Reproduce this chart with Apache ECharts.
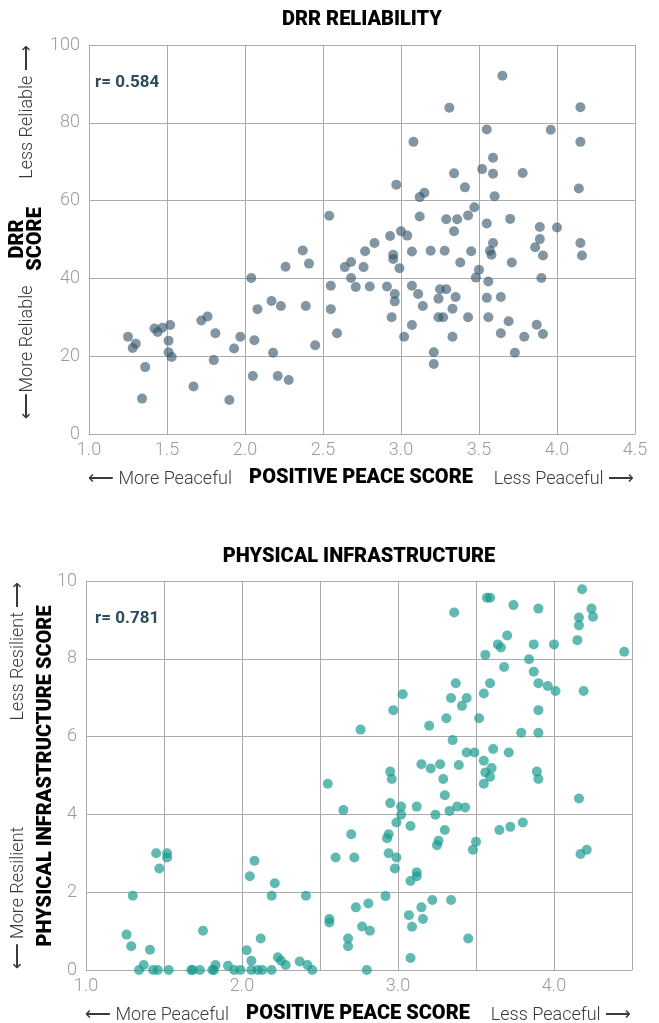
<!DOCTYPE html>
<html>
<head>
<meta charset="utf-8">
<script src="https://cdn.jsdelivr.net/npm/echarts@6/dist/echarts.min.js"></script>
<style>
  html, body { margin: 0; padding: 0; background: #fff; }
  #chart { width: 659px; height: 1023px; }
</style>
</head>
<body>
<div id="chart"></div>
<script>
// Positive Peace score (x) vs. DRR score (y), one point per country
const drrPoints = [
  [1.25,25.0],[1.30,23.2],[1.28,22.1],[1.36,17.2],[1.34,9.1],[1.42,27.1],[1.44,26.2],[1.47,27.3],
  [1.52,28.0],[1.51,24.0],[1.51,21.0],[1.53,19.8],[1.67,12.2],[1.72,29.2],[1.76,30.2],[1.80,19.0],
  [1.81,25.9],[1.90,8.75],[1.93,22.0],[1.97,25.0],[2.04,40.1],[2.08,32.1],[2.06,24.1],[2.05,14.9],
  [2.17,34.2],[2.18,20.9],[2.21,14.9],[2.23,32.9],[2.26,43.0],[2.28,13.9],[2.37,47.2],[2.39,32.9],
  [2.41,43.8],[2.45,22.8],[2.54,56.1],[2.55,38.1],[2.55,32.1],[2.59,25.9],[2.64,42.9],[2.68,44.2],
  [2.68,40.1],[2.71,37.8],[2.76,42.9],[2.77,47.0],[2.80,37.9],[2.83,49.1],[2.91,37.9],[2.93,50.9],
  [2.94,30.0],[2.95,46.1],[2.95,45.0],[2.96,36.0],[2.96,34.1],[2.97,64.1],[2.99,42.6],[3.00,52.1],
  [3.02,25.0],[3.04,51.0],[3.07,46.9],[3.07,38.1],[3.07,28.0],[3.08,75.1],[3.11,36.0],[3.12,55.9],
  [3.12,60.9],[3.14,32.9],[3.15,62.0],[3.19,47.1],[3.21,21.0],[3.21,18.0],[3.24,34.8],[3.24,30.0],
  [3.25,37.2],[3.27,30.0],[3.28,47.1],[3.29,37.2],[3.29,55.2],[3.31,83.9],[3.33,32.2],[3.33,25.0],
  [3.34,52.1],[3.34,67.0],[3.35,35.2],[3.36,55.2],[3.38,44.1],[3.41,63.4],[3.43,56.2],[3.43,30.0],
  [3.45,47.0],[3.47,58.3],[3.48,40.2],[3.50,42.2],[3.52,68.1],[3.55,78.3],[3.55,54.1],[3.55,35.0],
  [3.56,39.2],[3.56,30.0],[3.57,47.1],[3.58,46.1],[3.59,49.1],[3.59,71.0],[3.59,66.9],[3.60,61.1],
  [3.64,35.2],[3.64,25.9],[3.65,92.1],[3.69,29.0],[3.70,55.3],[3.71,44.1],[3.73,20.9],[3.78,67.1],
  [3.79,25.0],[3.86,48.0],[3.87,28.1],[3.89,53.2],[3.89,50.1],[3.90,40.1],[3.91,45.9],[3.91,25.7],
  [3.96,78.2],[4.00,53.1],[4.14,63.1],[4.15,84.0],[4.15,75.1],[4.15,49.1],[4.16,45.9]
];

// Positive Peace score (x) vs. physical infrastructure score (y)
const infraPoints = [
  [1.26,0.91],[1.29,0.61],[1.30,1.91],[1.34,0],[1.37,0.13],[1.41,0.52],[1.43,0],[1.46,0],
  [1.45,3.00],[1.47,2.61],[1.52,3.00],[1.52,2.89],[1.53,0],[1.675,0],[1.685,0],[1.73,0],
  [1.75,1.01],[1.81,0],[1.82,0],[1.83,0.13],[1.91,0.11],[1.95,0],[1.99,0],[2.03,0.51],
  [2.05,2.41],[2.06,0.24],[2.06,0],[2.08,2.81],[2.10,0],[2.12,0.81],[2.13,0],[2.19,0],
  [2.19,1.91],[2.21,2.23],[2.23,0.33],[2.25,0.24],[2.28,0.13],[2.37,0.22],[2.41,1.91],[2.42,0.13],
  [2.45,0],[2.55,4.79],[2.56,1.31],[2.56,1.22],[2.60,2.89],[2.65,4.11],[2.68,0.81],[2.68,0.61],
  [2.70,3.49],[2.72,2.89],[2.73,1.61],[2.76,6.18],[2.77,1.12],[2.80,0],[2.81,1.71],[2.82,1.01],
  [2.92,1.90],[2.93,3.39],[2.94,3.49],[2.94,3.00],[2.95,5.10],[2.95,4.29],[2.96,4.91],[2.97,6.68],
  [2.98,2.61],[2.99,3.79],[2.99,2.89],[3.02,4.20],[3.02,3.99],[3.03,7.09],[3.07,1.41],[3.08,3.70],
  [3.08,2.29],[3.08,0.31],[3.09,1.11],[3.12,4.20],[3.12,2.51],[3.12,2.41],[3.15,5.29],[3.15,1.61],
  [3.16,1.31],[3.20,6.28],[3.21,5.18],[3.22,1.80],[3.24,3.99],[3.25,3.21],[3.26,3.32],[3.27,5.29],
  [3.29,4.91],[3.30,4.49],[3.30,3.60],[3.31,6.47],[3.33,4.09],[3.34,6.99],[3.34,1.80],[3.35,5.91],
  [3.36,9.19],[3.37,7.37],[3.38,4.20],[3.39,5.27],[3.41,6.79],[3.43,4.18],[3.44,6.99],[3.44,5.59],
  [3.45,0.81],[3.48,3.09],[3.49,5.59],[3.50,3.30],[3.52,6.47],[3.55,7.11],[3.55,5.38],[3.55,4.79],
  [3.56,8.10],[3.56,5.08],[3.57,9.57],[3.59,9.57],[3.59,7.37],[3.59,4.97],[3.60,5.19],[3.61,5.68],
  [3.64,8.37],[3.65,3.60],[3.66,8.29],[3.68,7.79],[3.70,8.60],[3.71,5.59],[3.72,3.68],[3.74,9.38],
  [3.79,6.10],[3.80,3.79],[3.84,7.99],[3.87,8.37],[3.87,7.67],[3.89,5.10],[3.90,9.29],[3.90,7.37],
  [3.90,6.68],[3.90,6.10],[3.90,4.91],[3.96,7.30],[4.00,8.37],[4.01,7.17],[4.15,8.48],[4.16,9.06],
  [4.16,8.86],[4.16,4.41],[4.17,2.98],[4.18,9.79],[4.19,7.17],[4.21,3.09],[4.24,9.29],[4.25,9.08],
  [4.45,8.18]
];

const drrTitle = 'DRR RELIABILITY';
const infraTitle = 'PHYSICAL INFRASTRUCTURE';
const drrR = 'r= 0.584';
const infraR = 'r= 0.781';
const xAxisName = 'POSITIVE PEACE SCORE';
const xLow = '\u27F5 More Peaceful';
const xHigh = 'Less Peaceful \u27F6';

const GRID_COLOR = '#ababab';
const TICK_COLOR = '#9b9b9b';
const SIDE_COLOR = '#3a3a3a';
const heavy = '900 20px Roboto, "DejaVu Sans", sans-serif';
const light = '300 18px Roboto, "DejaVu Sans", sans-serif';
const rFont = '700 17px Roboto, sans-serif';
const tickFont = { fontFamily: 'Roboto', fontWeight: 300, fontSize: 18, color: TICK_COLOR };

function xAxisCfg(gridIndex, onlyWhole) {
  return {
    type: 'value', gridIndex, min: 1, max: 4.5, interval: 0.5,
    axisLine: { show: true, lineStyle: { color: GRID_COLOR } },
    axisTick: { show: false },
    splitLine: { show: true, lineStyle: { color: GRID_COLOR, width: 1 } },
    axisLabel: Object.assign({
      margin: 7,
      formatter: v => (onlyWhole && Math.abs(v - Math.round(v)) > 1e-9) ? '' : v.toFixed(1)
    }, tickFont)
  };
}
function yAxisCfg(gridIndex, max, interval) {
  return {
    type: 'value', gridIndex, min: 0, max, interval,
    axisLine: { show: true, lineStyle: { color: GRID_COLOR } },
    axisTick: { show: false },
    splitLine: { show: true, lineStyle: { color: GRID_COLOR, width: 1 } },
    axisLabel: Object.assign({ margin: 9 }, tickFont)
  };
}

function text(x, y, str, font, fill, align, rotation, lineHeight) {
  const style = {
    text: str, font, fill,
    align: align || 'center', verticalAlign: 'middle',
    textAlign: align || 'center', textVerticalAlign: 'middle'
  };
  if (lineHeight) style.lineHeight = lineHeight;
  return { type: 'text', x, y, rotation: rotation || 0, silent: true, style };
}

const ROT = Math.PI / 2;

const chart = echarts.init(document.getElementById('chart'), null, { renderer: 'canvas' });
chart.setOption({
  backgroundColor: '#ffffff',
  animation: false,
  grid: [
    { left: 89, right: 24, top: 45, height: 389 },
    { left: 86, right: 27, top: 581, height: 389 }
  ],
  xAxis: [xAxisCfg(0, false), xAxisCfg(1, true)],
  yAxis: [yAxisCfg(0, 100, 20), yAxisCfg(1, 10, 2)],
  series: [
    {
      type: 'scatter', xAxisIndex: 0, yAxisIndex: 0, data: drrPoints,
      symbolSize: 10,
      itemStyle: { color: '#37596b', opacity: 0.63 }
    },
    {
      type: 'scatter', xAxisIndex: 1, yAxisIndex: 1, data: infraPoints,
      symbolSize: 10,
      itemStyle: { color: '#16998c', opacity: 0.68 }
    }
  ],
  graphic: [
    // DRR panel
    text(362, 20, drrTitle, heavy, '#000'),
    text(95, 83, drrR, rFont, '#2b4a5b', 'left'),
    text(88, 479, xLow, light, SIDE_COLOR, 'left'),
    text(361, 478, xAxisName, heavy, '#000'),
    text(634, 479, xHigh, light, SIDE_COLOR, 'right'),
    text(27, 239, 'DRR\nSCORE', heavy, '#000', 'center', ROT, 18),
    text(27, 112, 'Less Reliable \u27F6', light, SIDE_COLOR, 'center', ROT),
    text(27, 352, '\u27F5More Reliable', light, SIDE_COLOR, 'center', ROT),

    // Physical infrastructure panel
    text(359, 557, infraTitle, heavy, '#000'),
    text(95, 619, infraR, rFont, '#2b4a5b', 'left'),
    text(85, 1015, xLow, light, SIDE_COLOR, 'left'),
    text(358, 1014, xAxisName, heavy, '#000'),
    text(631, 1015, xHigh, light, SIDE_COLOR, 'right'),
    text(46, 776, 'PHYSICAL INFRASTRUCTURE SCORE', heavy, '#000', 'center', ROT),
    text(18, 651, 'Less Resilient \u27F6', light, SIDE_COLOR, 'center', ROT),
    text(18, 898, '\u27F5 More Resilient', light, SIDE_COLOR, 'center', ROT)
  ]
});
</script>
</body>
</html>
